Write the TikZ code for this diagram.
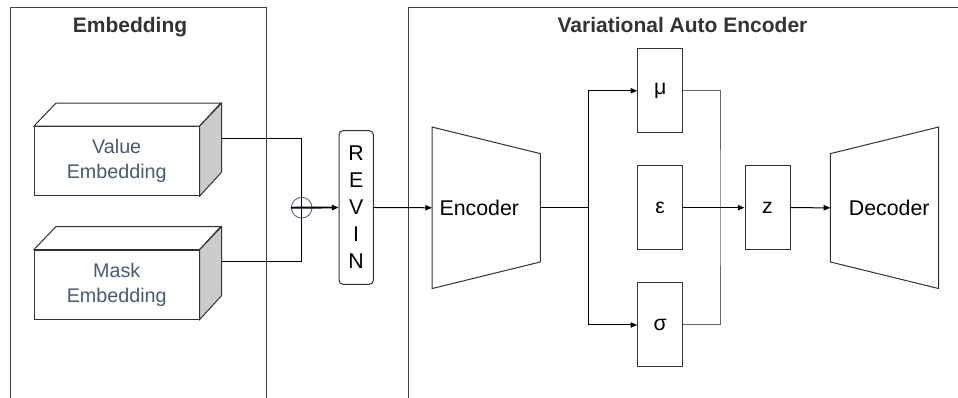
\documentclass[tikz,border=0pt]{standalone}
\usepackage{fontspec}
\setmainfont{Liberation Sans}
\usetikzlibrary{arrows.meta,calc}
\definecolor{slate}{HTML}{4A5A72}
\definecolor{circ}{HTML}{5A6F96}
\begin{document}
\begin{tikzpicture}[x=0.75pt,y=-0.75pt,
  frame/.style={draw=black!75, line width=0.75pt},
  edge/.style={draw=black!80, line width=0.75pt},
  box/.style={edge, minimum width=33.75pt, minimum height=63pt, inner sep=0pt, font=\fontsize{16}{19}\selectfont},
  cube/.style={edge, fill=white, minimum width=123.5pt, minimum height=51.75pt, inner sep=0pt, align=center, text=slate, font=\fontsize{14.8}{18.75}\selectfont},
  trap/.style={minimum width=80.8pt, minimum height=120.75pt, inner sep=0pt},
  conn/.style={line width=0.75pt, black},
  mconn/.style={line width=0.75pt, black!60},
  arr/.style={conn, -{Triangle[length=5pt,width=4pt]}},
  ttl/.style={font=\fontsize{15.75}{18}\selectfont\bfseries, text=black!80, anchor=base},
  lbl/.style={font=\fontsize{16}{19}\selectfont, inner sep=0pt},
]
\useasboundingbox (0,0) rectangle (958,398);

% frames
\draw[frame] (10.7,398) -- (10.7,7.3) -- (266.7,7.3) -- (266.7,398);
\draw[frame] (408.3,398) -- (408.3,7.3) -- (958,7.3);
\node[ttl] (t1) at (130,32.3) {Embedding};
\node[ttl] (t2) at (682.5,32.3) {Variational Auto Encoder};

% cuboids
\node[cube] (value) at (116.7,161.2) {Value\\Embedding};
\draw[edge, fill=white] (value.north west) -- ++(22,-23) -- ++(164.7,0) -- (value.north east) -- cycle;
\draw[edge, fill=gray!40] (value.north east) -- ++(22,-23) -- ++(0,69) -- (value.south east) -- cycle;
\coordinate (vb) at ($(value.east)+(22,-23)$);

\node[cube] (mask) at (116.7,284.7) {Mask\\Embedding};
\draw[edge, fill=white] (mask.north west) -- ++(22,-23) -- ++(164.7,0) -- (mask.north east) -- cycle;
\draw[edge, fill=gray!40] (mask.north east) -- ++(22,-23) -- ++(0,69) -- (mask.south east) -- cycle;
\coordinate (mb) at ($(mask.east)+(22,-23)$);

% sum
\node[circle, draw=circ, line width=0.75pt, minimum size=15.5pt, inner sep=0pt] (plus) at (301.7,207.7) {};
\draw[conn] (vb) -| (plus.center) |- (mb);

% revin
\node[edge, rounded corners=3pt, minimum width=25.7pt, minimum height=115.2pt, align=center, inner sep=0pt, font=\fontsize{16}{20.25}\selectfont] (revin) at (356.2,207.5) {R\\E\\V\\I\\N};
\draw[arr, line width=1.4pt] (plus.west) -- (revin.west);

% encoder
\node[trap] (enc) at (486.2,207.8) {};
\draw[edge] (enc.north west) -- (enc.south west) -- ($(enc.south east)+(0,-26.6)$) -- ($(enc.north east)+(0,26.6)$) -- cycle;
\node[lbl] (enctxt) at (479.3,208) {Encoder};
\draw[arr] (revin.east) -- (enc.west);

% latent boxes
\node[box] (mu) at (660.2,90.8) {μ};
\node[box] (eps) at (660.2,207.7) {ε};
\node[box] (sigma) at (660.2,325) {σ};
\node[box] (z) at (767.5,207.7) {z};

\coordinate (br) at (588.7,207.8);
\coordinate (mg) at (720,207.7);
\draw[conn] (enc.east) -- (br);
\draw[arr] (br) |- (mu.west);
\draw[arr] (br) |- (sigma.west);
\draw[mconn] (mu.east) -| (mg) |- (sigma.east);
\draw[arr] (eps.east) -- (z.west);

% decoder
\node[trap] (dec) at (884.5,207.8) {};
\draw[edge] (dec.north east) -- (dec.south east) -- ($(dec.south west)+(0,-26.6)$) -- ($(dec.north west)+(0,26.6)$) -- cycle;
\node[lbl] (dectxt) at (889.2,208) {Decoder};
\draw[arr] (z.east) -- (dec.west);
\end{tikzpicture}
\end{document}
